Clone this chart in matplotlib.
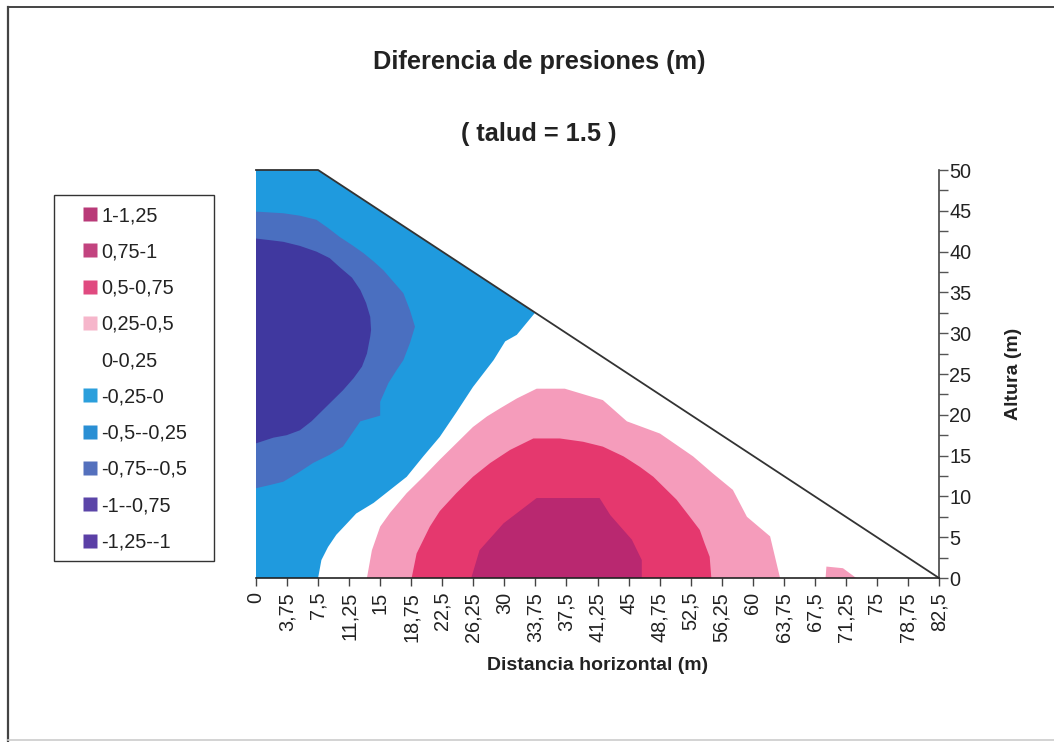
import matplotlib
matplotlib.use('Agg')
import matplotlib.pyplot as plt
from matplotlib.lines import Line2D
from matplotlib.patches import Rectangle

plt.rcParams['font.family'] = ['Liberation Sans', 'DejaVu Sans']

x_ticks = [3.75 * i for i in range(23)]
x_labels = ['0', '3,75', '7,5', '11,25', '15', '18,75', '22,5', '26,25', '30', '33,75', '37,5', '41,25',
            '45', '48,75', '52,5', '56,25', '60', '63,75', '67,5', '71,25', '75', '78,75', '82,5']
y_major = [0, 5, 10, 15, 20, 25, 30, 35, 40, 45, 50]
y_minor = [2.5, 7.5, 12.5, 17.5, 22.5, 27.5, 32.5, 37.5, 42.5, 47.5]

legend_labels = ['1-1,25', '0,75-1', '0,5-0,75', '0,25-0,5', '0-0,25',
                 '-0,25-0', '-0,5--0,25', '-0,75--0,5', '-1--0,75', '-1,25--1']
legend_colors = ['#b93a78', '#c2437f', '#e04a80', '#f6b6cb', 'none',
                 '#2b9fdc', '#2a8fd4', '#5470bd', '#5b45a8', '#5b3fa6']

# dam outline
dam_x = [0, 7.5, 82.5]
dam_y = [50, 50, 0]

# contour boundaries
blue_x = [0, 7.5, 33.7, 31.5, 30.1, 28.7, 26.2, 24.2, 22.2, 20.2, 18.2, 16.2, 14.2, 12.1, 11, 9.7, 8.7, 7.9, 7.5, 0]
blue_y = [50, 50, 32.5, 29.8, 29, 26.7, 23.4, 20.3, 17.3, 14.9, 12.4, 10.8, 9.2, 7.9, 6.7, 5.3, 3.8, 2.2, 0, 0]
mid_x = [0, 3.3, 5.3, 7.3, 8.7, 10.1, 11.6, 13, 14.2, 15.4, 16.6, 17.8, 18.6, 19.2, 18.6, 17.8, 17, 16, 15, 15,
         12.6, 10.5, 8.9, 6.9, 5.1, 3.3, 1.7, 0]
mid_y = [44.9, 44.7, 44.4, 43.9, 42.9, 41.8, 40.8, 39.8, 38.8, 37.7, 36.3, 34.9, 32.8, 30.8, 28.8, 26.7, 25.5, 23.9, 21.6, 19.9,
         19.2, 16.1, 15.1, 14.1, 12.9, 11.8, 11.4, 11]
dark_x = [0, 1.7, 3.3, 5.3, 7.3, 8.9, 10.1, 11.6, 12.6, 13.3, 13.8, 13.9, 13.8, 13.4, 12.8, 11.8, 10.5, 9.3, 8.1, 6.7,
          5.3, 3.7, 2.1, 0]
dark_y = [41.6, 41.4, 41.2, 40.7, 40, 39.2, 38.1, 36.8, 35.3, 33.7, 32, 30.4, 29.6, 27.5, 25.9, 24.5, 23, 21.8, 20.6, 19.2,
          18.1, 17.5, 17.2, 16.5]
pink_x = [13.4, 14, 15, 16.2, 18.2, 20.2, 22.2, 24.2, 26.2, 27.9, 29.5, 31.5, 33.9, 37.3, 41.9, 44.8, 48.8, 52.8, 55.2, 57.6, 59.3, 62.1, 63.3]
pink_y = [0, 3.4, 6.3, 8, 10.4, 12.4, 14.5, 16.5, 18.5, 19.8, 20.8, 22, 23.2, 23.2, 21.8, 19.2, 17.7, 14.9, 12.8, 10.8, 7.5, 5.1, 0]
blob_x = [68.8, 68.9, 70.9, 72.5]
blob_y = [0, 1.4, 1.2, 0]
red_x = [18.8, 19.4, 21, 22.2, 24.2, 26.2, 28.3, 30.7, 33.5, 36.7, 39.5, 41.9, 44.4, 46.4, 48, 49.6, 50.8, 52.4, 53.6, 54.2, 54.8, 55]
red_y = [0, 3, 6.3, 8.2, 10.4, 12.4, 14.1, 15.7, 17.1, 17.1, 16.7, 16.1, 14.9, 13.6, 12.4, 10.8, 9.6, 7.5, 5.9, 4.2, 2.6, 0]
mag_x = [26, 27, 29.9, 33.9, 36.7, 41.5, 42.8, 45.4, 46.6, 46.6]
mag_y = [0, 3.4, 6.7, 9.8, 9.8, 9.8, 7.7, 4.7, 2.2, 0]

fig = plt.figure(figsize=(10.54, 7.42), dpi=100)
ax = fig.add_axes([256 / 1054, 1 - 578 / 742, 683 / 1054, 408 / 742])

ax.fill(blue_x, blue_y, color='#1f9ade', lw=0)
ax.fill(mid_x, mid_y, color='#4a6fc0', lw=0)
ax.fill(dark_x, dark_y, color='#40389f', lw=0)
ax.fill(pink_x, pink_y, color='#f59cbb', lw=0)
ax.fill(blob_x, blob_y, color='#f59cbb', lw=0)
ax.fill(red_x, red_y, color='#e5386e', lw=0)
ax.fill(mag_x, mag_y, color='#b92870', lw=0)
ax.plot(dam_x, dam_y, color='#333333', lw=1.3, clip_on=False)

ax.set_xlim(0, 82.5)
ax.set_ylim(0, 50)
for s in ['left', 'top']:
    ax.spines[s].set_visible(False)
ax.spines['right'].set_color('#444444')
ax.spines['bottom'].set_color('#222222')
ax.spines['right'].set_linewidth(1.2)
ax.spines['bottom'].set_linewidth(1.2)

ax.set_xticks(x_ticks)
ax.set_xticklabels(x_labels, rotation=90, fontsize=14.3, color='#222222')
ax.tick_params(axis='x', length=6, width=1, color='#444444', pad=4)
ax.yaxis.tick_right()
ax.set_yticks(y_major)
ax.set_yticks(y_minor, minor=True)
ax.tick_params(axis='y', which='both', length=6.5, width=1, color='#555555', pad=1)
ax.set_yticklabels([str(v) for v in y_major], fontsize=14.3, color='#222222')

fig.text(539 / 1054, 1 - 61.5 / 742, 'Diferencia de presiones (m)', fontsize=18.3, fontweight='bold',
         ha='center', va='center', color='#222222')
fig.text(539 / 1054, 1 - 134.5 / 742, '( talud = 1.5 )', fontsize=18.3, fontweight='bold',
         ha='center', va='center', color='#222222')
fig.text(598 / 1054, 1 - 665 / 742, 'Distancia horizontal (m)', fontsize=14, fontweight='bold',
         ha='center', va='center', color='#222222')
fig.text(1013 / 1054, 1 - 374 / 742, 'Altura (m)', fontsize=14, fontweight='bold', rotation=90,
         ha='center', va='center', color='#222222')

# legend frame is wider than its entries
fig.add_artist(Rectangle((54 / 1054, 1 - 561 / 742), 160 / 1054, 366 / 742, transform=fig.transFigure,
                         fc='white', ec='#333333', lw=1))
handles = [Line2D([], [], ls='', marker='s', ms=9.5, mfc=c, mec='none') for c in legend_colors]
leg = fig.legend(handles, legend_labels, loc='upper left', bbox_to_anchor=(80 / 1054, 1 - 206 / 742),
                 borderaxespad=0, fontsize=14.3, labelspacing=0.87, handlelength=1, handletextpad=0.085,
                 borderpad=0, frameon=False)
for t in leg.get_texts():
    t.set_color('#222222')

# scanned page frame, only three sides show
fig.add_artist(Line2D([8 / 1054, 8 / 1054], [0, 1 - 7 / 742], color='#444444', lw=1.6))
fig.add_artist(Line2D([8 / 1054, 1], [1 - 7 / 742, 1 - 7 / 742], color='#444444', lw=1.4))
fig.add_artist(Line2D([8 / 1054, 1], [1 - 740 / 742, 1 - 740 / 742], color='#cccccc', lw=1.2))

fig.savefig('out.png', dpi=100)
